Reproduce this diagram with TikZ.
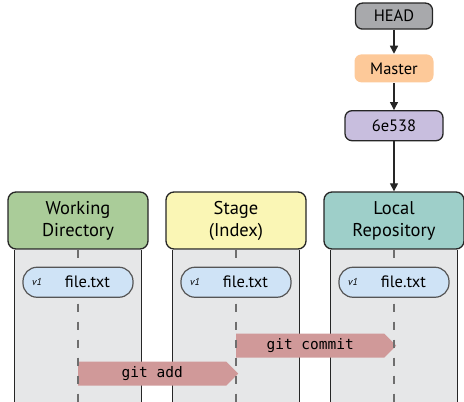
\documentclass[tikz,border=0pt]{standalone}
\usepackage{fontspec}
\setmainfont{PT Sans}
\setmonofont{DejaVu Sans Mono}
\usetikzlibrary{positioning,shapes.symbols,arrows.meta,backgrounds}

\definecolor{wdgreen}{RGB}{170,204,153}
\definecolor{stageyellow}{RGB}{250,246,181}
\definecolor{repoteal}{RGB}{158,207,201}
\definecolor{lanegray}{RGB}{230,231,232}
\definecolor{fileblue}{RGB}{207,227,246}
\definecolor{cmdpink}{RGB}{208,153,153}
\definecolor{headgray}{RGB}{168,169,172}
\definecolor{masterorange}{RGB}{253,201,153}
\definecolor{commitpurple}{RGB}{200,190,222}
\definecolor{edgegray}{RGB}{85,85,85}
\definecolor{dashgray}{RGB}{110,110,110}

\tikzset{
  area/.style={draw=black!85, line width=1.3pt, rounded corners=8pt,
    minimum width=140pt, minimum height=57pt, align=center,
    font=\fontsize{18.5}{22}\selectfont},
  lane/.style={fill=lanegray, minimum width=127pt, minimum height=175pt,
    inner sep=0pt},
  laneside/.style={black!85, line width=1.3pt},
  track/.style={dashgray, line width=2.8pt, dash pattern=on 8pt off 10pt},
  filebox/.style={draw=edgegray, fill=fileblue, line width=1.2pt,
    rounded corners=14pt, minimum width=110pt, minimum height=30pt},
  fname/.style={font=\fontsize{16.5}{18}\selectfont},
  ver/.style={font=\itshape\fontsize{10}{11}\selectfont},
  ref/.style={rounded corners=7pt, line width=1.3pt, inner sep=0pt,
    font=\fontsize{16.5}{18}\selectfont},
  cmd/.style={shape=signal, signal to=east, signal pointer angle=90,
    fill=cmdpink, minimum width=160pt, minimum height=24pt, inner sep=0pt,
    font=\ttfamily\fontsize{14.5}{16}\selectfont},
  link/.style={-{Triangle[width=8pt,length=8pt]}, line width=1.3pt, black!85}
}

\begin{document}
\begin{tikzpicture}[x=1pt, y=1pt, node distance=158pt]
  \useasboundingbox (0,0) rectangle (464,402);

  % the three areas
  \node[area, fill=wdgreen] (WD) at (78,181.5) {Working\\Directory};
  \node[area, fill=stageyellow, right of=WD] (ST) {Stage\\(Index)};
  \node[area, fill=repoteal, right of=ST] (LR) {Local\\Repository};

  % gray lanes under each area
  \begin{scope}[on background layer]
    \node[lane, below=0pt of WD] (WDlane) {};
    \node[lane, below=0pt of ST] (STlane) {};
    \node[lane, below=0pt of LR] (LRlane) {};
    \draw[laneside] (WDlane.north west) -- (WDlane.south west)
                    (WDlane.north east) -- (WDlane.south east);
    \draw[laneside] (STlane.north west) -- (STlane.south west)
                    (STlane.north east) -- (STlane.south east);
    \draw[laneside] (LRlane.north west) -- (LRlane.south west)
                    (LRlane.north east) -- (LRlane.south east);
  \end{scope}

  % commands
  \node[cmd, anchor=west] (add) at ([yshift=-124pt]WDlane.north) {git add};
  \node[cmd, anchor=west] (commit) at ([yshift=-96pt]STlane.north) {git commit};

  \draw[track] (WD.south) -- (WDlane.south);
  \draw[track] (ST.south) -- (STlane.south);
  \draw[track] (LR.south) -- (LRlane.south);

  % file.txt in each area
  \node[filebox, below=17pt of WD] (WDfile) {};
  \node[ver] (WDver) at ([xshift=-41pt]WDfile.center) {v1};
  \node[fname] (WDname) at ([xshift=9.5pt]WDfile.center) {file.txt};

  \node[filebox, below=17pt of ST] (STfile) {};
  \node[ver] (STver) at ([xshift=-41pt]STfile.center) {v1};
  \node[fname] (STname) at ([xshift=9.5pt]STfile.center) {file.txt};

  \node[filebox, below=17pt of LR] (LRfile) {};
  \node[ver] (LRver) at ([xshift=-41pt]LRfile.center) {v1};
  \node[fname] (LRname) at ([xshift=9.5pt]LRfile.center) {file.txt};

  % HEAD -> Master -> commit
  \node[ref, draw=black!85, fill=commitpurple, minimum width=98pt,
    minimum height=30pt, above=50pt of LR] (C1) {6e538};
  \node[ref, fill=masterorange, minimum width=79pt, minimum height=28pt,
    above=27pt of C1] (master) {Master};
  \node[ref, draw=black!85, fill=headgray, minimum width=77pt,
    minimum height=26pt, above=24pt of master] (head) {HEAD};

  \draw[link] (head) -- (master);
  \draw[link] (master) -- (C1);
  \draw[link] (C1) -- (LR);
\end{tikzpicture}
\end{document}
